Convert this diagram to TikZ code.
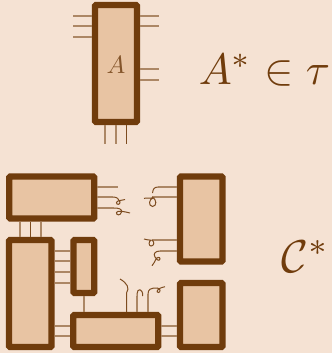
\documentclass[tikz,border=0pt]{standalone}
\usepackage{xcolor}
\definecolor{paper}{HTML}{F5E2D3}
\definecolor{boxfill}{HTML}{E8C4A3}
\definecolor{ink}{HTML}{703C0C}
\tikzset{
  blok/.style={draw=ink,fill=boxfill,line width=6.2pt,rounded corners=1pt,inner sep=0pt,minimum width=#1},
  wire/.style={ink!55!paper,line width=1.6pt},
  thinwire/.style={ink!90!paper,line width=1pt},
  bigmath/.style={text=ink,inner sep=0pt,anchor=base west,scale=#1}
}
\begin{document}
\begin{tikzpicture}[x=1pt,y=-1pt]
\fill[paper] (0,0) rectangle (332,353);\useasboundingbox (0,0) rectangle (332,353);
\node[blok=42pt,minimum height=117pt] (boxA) at (116,63.5) {};
\node[text=ink!85!paper,inner sep=0pt,scale=2.5] (labelA) at (116,65) {$A$};
\node[bigmath=4.4] (formulaA) at (198,84) {$A^*\in\tau$};
\node[bigmath=4.6] (formulaC) at (281,272) {$\mathcal{C}^*$};
\node[blok=85pt,minimum height=42pt] (boxTop) at (51.7,197.5) {};
\node[blok=42.5pt,minimum height=107pt] (boxTall) at (30.3,293.5) {};
\node[blok=20.7pt,minimum height=53pt] (boxSmall) at (83.8,266.5) {};
\node[blok=85pt,minimum height=32pt] (boxLow) at (115.7,331) {};
\node[blok=42.5pt,minimum height=85pt] (boxRight) at (201.2,219) {};
\node[blok=42.5pt,minimum height=64pt] (boxCorner) at (201.2,315) {};
\foreach \y in {16,26,37} \draw[wire] (boxA.west |- 0,\y) -- +(-19,0);
\foreach \y in {16,26,69,80} \draw[wire] (boxA.east |- 0,\y) -- +(19,0);
\foreach \x in {105,116} \draw[wire] (boxA.south -| \x,0) -- +(0,19);
\draw[thinwire] (boxA.south -| 126.5,0) -- +(0,19);
\foreach \x in {20,41} \draw[wire] (boxTop.south -| \x,0) -- (boxTall.north -| \x,0);
\draw[thinwire] (boxTop.south -| 30.5,0) -- (boxTall.north -| 30.5,0);
\foreach \y in {251,261,272,283} \draw[wire] (boxTall.east |- 0,\y) -- (boxSmall.west |- 0,\y);
\foreach \y in {326,336} {\draw[wire] (boxTall.east |- 0,\y) -- (boxLow.west |- 0,\y);\draw[wire] (boxLow.east |- 0,\y) -- (boxCorner.west |- 0,\y);}
\draw[wire] (boxSmall.south -| 84,0) -- (boxLow.north -| 84,0);
\draw[wire] (boxTop.east |- 0,187) -- (118,187);
\draw[wire] (boxTop.east |- 0,197) -- (113,197);
\draw[thinwire] (113,197) .. controls (117,197) and (119,199) .. (120,202) .. controls (120.5,205) and (116,205) .. (116.5,202.5) .. controls (117,200.5) and (121,200.5) .. (125,199.5);
\draw[wire] (boxTop.east |- 0,208) -- (114,208);
\draw[thinwire] (114,208) .. controls (119,208) and (122,209) .. (121.5,212) .. controls (120.5,216) and (116,215.5) .. (116.5,212.5) .. controls (117,210) and (124,211.5) .. (130,213);
\draw[wire] (boxRight.west |- 0,187) -- (158,187);
\draw[thinwire] (158,187) .. controls (154,187) and (153,189.5) .. (152.5,193);
\draw[wire] (boxRight.west |- 0,197) -- (152,197);
\draw[thinwire] (152,197) .. controls (157,199) and (157,206.5) .. (152.5,206.5) .. controls (148,206) and (149,199) .. (153,198) .. controls (150,198) and (147,198) .. (144,198.3);
\draw[wire] (boxRight.west |- 0,240) -- (152,240);
\draw[thinwire] (152,240) .. controls (155,242) and (154,246) .. (151,246) .. controls (148.5,246) and (148.5,241) .. (151,240.2) .. controls (148,240) and (146,239.5) .. (144,239);
\draw[wire] (boxRight.west |- 0,251) -- (160,251);
\draw[thinwire] (160,251) .. controls (155,251) and (153,254) .. (155,257) .. controls (156,259) and (159,262) .. (160,259) .. controls (160.5,256.5) and (156,257) .. (155.5,260) .. controls (155,262) and (153,264) .. (152,265.7);
\draw[thinwire] (boxLow.north -| 126.5,0) -- (126.5,293) .. controls (130,288) and (127,283) .. (120,279);
\draw[wire] (boxLow.north -| 137,0) -- (137,296);
\draw[thinwire] (137,296) -- (137,294) .. controls (137,288) and (143,288) .. (142.7,296);
\draw[wire] (boxLow.north -| 148,0) -- (148,294);
\draw[thinwire] (148,294) .. controls (148,289) and (151,288) .. (157,288) .. controls (161,288) and (160.5,292.5) .. (158.5,292.5) .. controls (156,292.5) and (156,288.5) .. (165,286.7);
\end{tikzpicture}
\end{document}
